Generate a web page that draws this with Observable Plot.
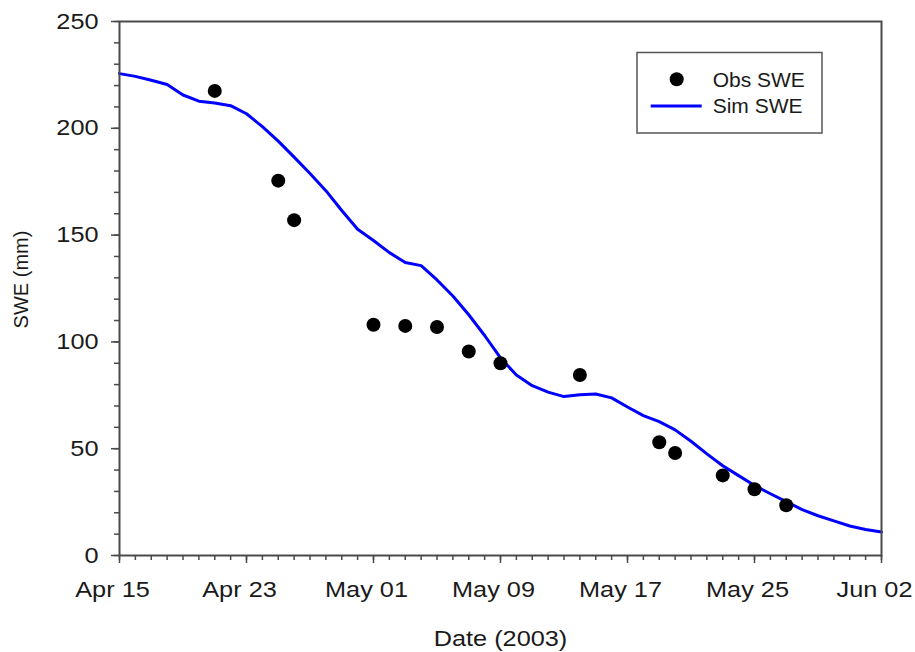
<!DOCTYPE html>
<html>
<head>
<meta charset="utf-8">
<script src="https://cdn.jsdelivr.net/npm/d3@7"></script>
<script src="https://cdn.jsdelivr.net/npm/@observablehq/plot@0.6"></script>
<style>
  body { margin: 0; background: #fff; }
  #chart { position: relative; width: 915px; height: 652px; font-family: "Liberation Sans", Arial, sans-serif; }
  #legend { position: absolute; left: 636px; top: 51px; }
</style>
</head>
<body>
<div id="chart"></div>
<script>
// Observed snow water equivalent (mm) on survey dates
const obsDates = ["2003-04-21", "2003-04-25", "2003-04-26", "2003-05-01", "2003-05-03", "2003-05-05", "2003-05-07",
                  "2003-05-09", "2003-05-14", "2003-05-19", "2003-05-20", "2003-05-23", "2003-05-25", "2003-05-27"];
const obsSWE = [217.5, 175.5, 157, 108, 107.5, 107, 95.5, 90, 84.5, 53, 48, 37.5, 31, 23.5];

// Simulated SWE (mm), one value per day starting at simStart
const simStart = "2003-04-15";
const simSWE = [225.6, 224.3, 222.5, 220.5, 215.6, 212.7, 211.8, 210.6, 206.8, 200.8,
                194.0, 186.5, 178.8, 170.8, 161.5, 152.7, 147.5, 141.8, 137.2, 135.7,
                129.0, 121.5, 112.7, 103.0, 92.5, 84.5, 79.5, 76.5, 74.4, 75.3,
                75.6, 73.8, 69.5, 65.5, 62.7, 58.8, 53.5, 47.6, 42.0, 37.4,
                32.8, 28.9, 25.2, 21.5, 18.6, 16.2, 13.8, 12.2, 11.0];

// Axis ticks
const xTickDates = ["2003-04-15", "2003-04-23", "2003-05-01", "2003-05-09", "2003-05-17", "2003-05-25", "2003-06-02"];
const xTickLabels = ["Apr 15", "Apr 23", "May 01", "May 09", "May 17", "May 25", "Jun 02"];
const yTicks = [0, 50, 100, 150, 200, 250];
const yMinorTicks = [0, 10, 20, 30, 40, 50, 60, 70, 80, 90, 100, 110, 120, 130, 140, 150, 160, 170, 180, 190, 200, 210, 220, 230, 240, 250];

const parse = d3.utcParse("%Y-%m-%d");
const obs = obsDates.map((d, i) => ({date: parse(d), swe: obsSWE[i]}));
const sim = simSWE.map((v, i) => ({date: d3.utcDay.offset(parse(simStart), i), swe: v}));
const xDomain = [parse(xTickDates[0]), parse(xTickDates[xTickDates.length - 1])];
const dayTicks = d3.utcDay.range(xDomain[0], d3.utcDay.offset(xDomain[1], 1));
const labelOf = new Map(xTickDates.map((d, i) => [+parse(d), xTickLabels[i]]));

const axisColor = "#4a4a4a";
const font = "'Liberation Sans', Arial, sans-serif";

const chart = Plot.plot({
  width: 915,
  height: 652,
  marginLeft: 119,
  marginRight: 34,
  marginTop: 21,
  marginBottom: 97,
  style: {fontFamily: font, fontSize: "22px", color: "#1a1a1a", background: "#fff", overflow: "visible"},
  x: {type: "utc", domain: xDomain},
  y: {domain: [0, 250]},
  marks: [
    Plot.line(sim, {x: "date", y: "swe", stroke: "#0000ff", strokeWidth: 3}),
    Plot.dot(obs, {x: "date", y: "swe", r: 7, fill: "#000", stroke: null}),
    Plot.frame({stroke: axisColor, strokeWidth: 2}),
    // minor ticks
    Plot.axisX({ticks: dayTicks, tickSize: 5, text: null, label: null, stroke: axisColor, strokeWidth: 1.5}),
    Plot.axisY({ticks: yMinorTicks, tickSize: 5, text: null, label: null, stroke: axisColor, strokeWidth: 1.5}),
    // major ticks with labels
    Plot.axisX({
      ticks: xTickDates.map(parse), tickSize: 8, tickPadding: 18,
      tickFormat: d => labelOf.get(+d),
      stroke: axisColor, strokeWidth: 1.5,
      label: "Date (2003)", labelAnchor: "center", labelOffset: 90, labelArrow: "none"
    }),
    Plot.axisY({
      ticks: yTicks, tickSize: 8, tickPadding: 13, tickFormat: d3.format("d"),
      stroke: axisColor, strokeWidth: 1.5, label: null
    }),
    Plot.text(["SWE (mm)"], {
      frameAnchor: "left", rotate: -90, textAnchor: "middle", lineAnchor: "top",
      dx: -106, dy: -9, fontSize: 20, fill: "#1a1a1a"
    })
  ]
});

const host = document.getElementById("chart");
host.appendChild(chart);

// Widen tick labels and the x title slightly, as in the printed figure
chart.querySelectorAll('g[aria-label="x-axis tick label"] text, g[aria-label="y-axis tick label"] text, g[aria-label="x-axis label"] text')
  .forEach(t => {
    const len = t.getComputedTextLength();
    t.setAttribute("textLength", (len * 1.15).toFixed(1));
    t.setAttribute("lengthAdjust", "spacingAndGlyphs");
  });
// Date labels sit a little left of their ticks
chart.querySelectorAll('g[aria-label="x-axis tick label"] text').forEach(t => t.setAttribute("dx", -7));

// Legend box
const ns = "http://www.w3.org/2000/svg";
const legend = document.createElementNS(ns, "svg");
legend.setAttribute("id", "legend");
legend.setAttribute("width", 190);
legend.setAttribute("height", 86);
legend.innerHTML = `
  <rect x="1" y="1.5" width="185" height="80.5" fill="#fff" stroke="#555" stroke-width="1.5"/>
  <circle cx="40.7" cy="28.3" r="7" fill="#000"/>
  <line x1="14.7" x2="65.7" y1="55" y2="55" stroke="#0000ff" stroke-width="3"/>
  <text x="76.7" y="35.7" font-family="${font}" font-size="21" fill="#1a1a1a">Obs SWE</text>
  <text x="76.7" y="62.3" font-family="${font}" font-size="21" fill="#1a1a1a">Sim SWE</text>`;
host.appendChild(legend);
</script>
</body>
</html>
